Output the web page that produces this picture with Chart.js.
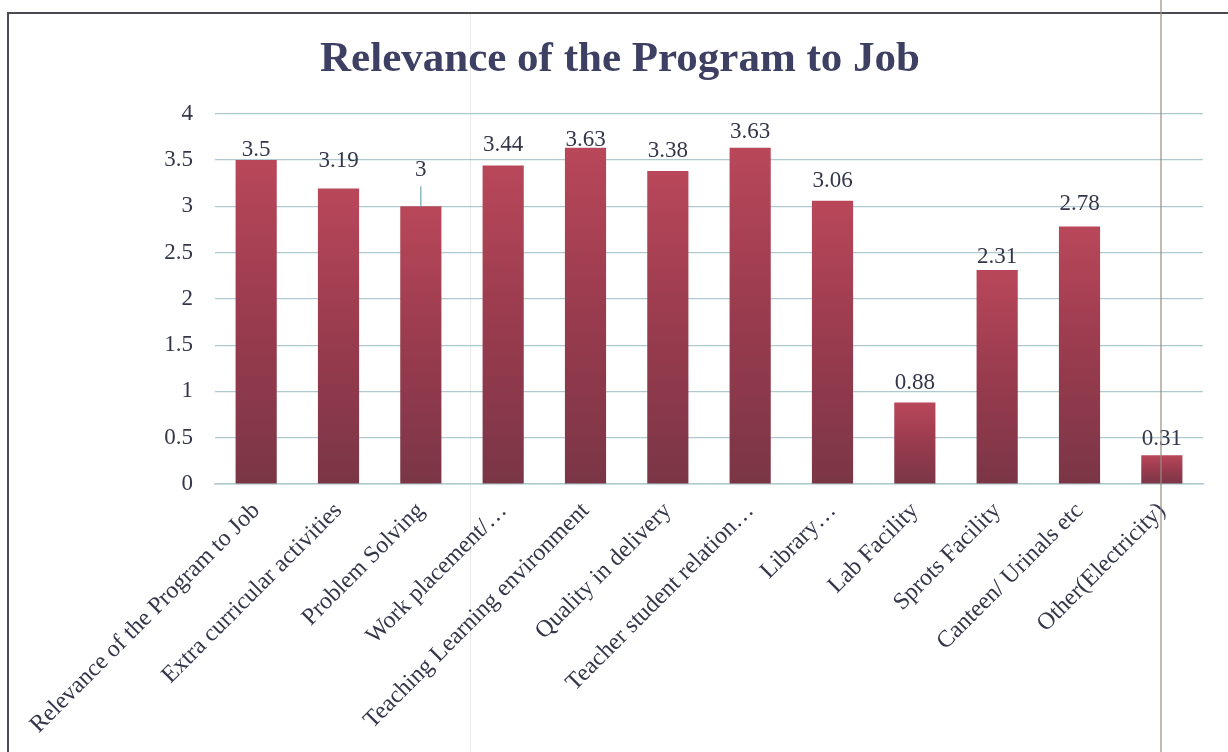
<!DOCTYPE html>
<html>
<head>
<meta charset="utf-8">
<title>Relevance of the Program to Job</title>
<script src="https://cdn.jsdelivr.net/npm/chart.js@4/dist/chart.umd.min.js"></script>
<style>
  html, body { margin: 0; padding: 0; background: #ffffff; }
  canvas { display: block; }
</style>
</head>
<body>
<canvas id="chart" width="1228" height="752"></canvas>
<script>
// Survey categories and their mean ratings
const categories = [
  'Relevance of the Program to Job',
  'Extra curricular activities',
  'Problem Solving',
  'Work placement/\u2026',
  'Teaching Learning environment',
  'Quality in delivery',
  'Teacher student relation\u2026',
  'Library\u2026',
  'Lab Facility',
  'Sprots Facility',
  'Canteen/ Urinals etc',
  'Other(Electricity)'
];
const ratings = [3.5, 3.19, 3, 3.44, 3.63, 3.38, 3.63, 3.06, 0.88, 2.31, 2.78, 0.31];
const yTicks = [0, 0.5, 1, 1.5, 2, 2.5, 3, 3.5, 4];

const SERIF = '"Liberation Serif", "Times New Roman", serif';
const TEXT = '#34364a';
const GRID = '#aecace';

// Page frame and the table rules running through the figure
const framePlugin = {
  id: 'frame',
  beforeDraw(chart) {
    const c = chart.ctx;
    c.save();
    c.fillStyle = '#ffffff';
    c.fillRect(0, 0, chart.width, chart.height);
    c.strokeStyle = '#e8e8e6';
    c.lineWidth = 1;
    c.beginPath(); c.moveTo(470.5, 14); c.lineTo(470.5, chart.height); c.stroke();
    c.strokeStyle = '#4a4a50';
    c.lineWidth = 2;
    c.beginPath();
    c.moveTo(8, chart.height);
    c.lineTo(8, 13);
    c.lineTo(chart.width, 13);
    c.stroke();
    c.restore();
  },
  afterDraw(chart) {
    const c = chart.ctx;
    c.save();
    c.strokeStyle = 'rgba(150,140,128,0.8)';
    c.lineWidth = 1.5;
    c.beginPath(); c.moveTo(1161, 0); c.lineTo(1161, chart.height); c.stroke();
    c.restore();
  }
};

// Value labels above each bar
const valueLabels = {
  id: 'valueLabels',
  afterDatasetsDraw(chart, args, opts) {
    const c = chart.ctx;
    const meta = chart.getDatasetMeta(0);
    const values = chart.data.datasets[0].data;
    c.save();
    c.font = opts.font;
    c.fillStyle = opts.color;
    c.textAlign = 'center';
    c.textBaseline = 'middle';
    meta.data.forEach((bar, i) => {
      const gap = opts.gaps[i];
      const y = bar.y - gap;
      c.fillText(String(values[i]), bar.x, y);
      if (gap > 30) {
        c.strokeStyle = opts.leaderColor;
        c.lineWidth = 1.2;
        c.beginPath();
        c.moveTo(bar.x, y + 16);
        c.lineTo(bar.x, bar.y);
        c.stroke();
      }
    });
    c.restore();
  }
};

function barFill(ctx) {
  const chart = ctx.chart;
  if (!chart.chartArea || ctx.type !== 'data') return '#9a3b4c';
  const y = chart.scales.y;
  const top = y.getPixelForValue(ctx.raw);
  const base = y.getPixelForValue(0);
  const g = chart.ctx.createLinearGradient(0, top, 0, base);
  g.addColorStop(0, '#b9475a');
  g.addColorStop(0.5, '#993b4e');
  g.addColorStop(1, '#7a3646');
  return g;
}

new Chart(document.getElementById('chart'), {
  type: 'bar',
  data: {
    labels: categories,
    datasets: [{
      data: ratings,
      backgroundColor: barFill,
      borderWidth: 0,
      categoryPercentage: 0.5,
      barPercentage: 1
    }]
  },
  options: {
    responsive: false,
    animation: false,
    devicePixelRatio: 1,
    layout: { padding: { left: 37, right: 25, top: 0, bottom: 8 } },
    plugins: {
      legend: { display: false },
      tooltip: { enabled: false },
      title: {
        display: true,
        text: 'Relevance of the Program to Job',
        color: '#3d4062',
        font: { family: SERIF, size: 43, weight: 'bold', lineHeight: 1.2 },
        padding: { top: 34, bottom: 28 }
      },
      valueLabels: {
        font: '23px ' + SERIF,
        color: TEXT,
        leaderColor: '#6fa9b4',
        gaps: [10, 28, 36, 21, 8, 20, 16, 20, 20, 13, 23, 16]
      }
    },
    scales: {
      x: {
        grid: { display: false, drawTicks: false },
        border: { display: true, color: GRID, width: 1.5 },
        ticks: {
          autoSkip: false,
          maxRotation: 45,
          minRotation: 45,
          padding: 13,
          color: TEXT,
          font: { family: SERIF, size: 24 }
        },
        afterFit(scale) {
          scale.height = 752 - 8 - 484;
          scale.paddingLeft = 0;
          scale.paddingRight = 0;
        }
      },
      y: {
        min: 0,
        max: 4,
        afterBuildTicks(scale) {
          scale.ticks = yTicks.map(v => ({ value: v }));
        },
        grid: { color: GRID, lineWidth: 1.2, drawTicks: false },
        border: { display: false },
        ticks: {
          padding: 22,
          color: TEXT,
          font: { family: SERIF, size: 23 },
          callback: v => String(v)
        },
        afterFit(scale) {
          scale.width = 178;
        }
      }
    }
  },
  plugins: [framePlugin, valueLabels]
});
</script>
</body>
</html>
